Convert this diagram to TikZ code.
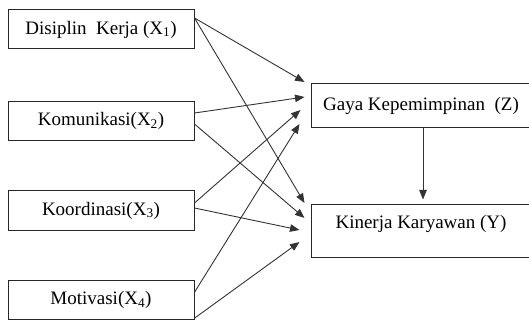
\documentclass[tikz,border=0pt]{standalone}
\usepackage{fontspec}
\setmainfont{Liberation Serif}
\usetikzlibrary{arrows.meta}
\begin{document}
\begin{tikzpicture}[x=1pt,y=-1pt,
  box/.style={draw=black!85, line width=1pt, inner sep=0pt, font=\fontsize{19}{22}\selectfont},
  lbox/.style={box, minimum width=186pt, minimum height=39pt},
  rbox/.style={box, minimum width=220pt},
  conn/.style={draw=black!80, line width=0.9pt, -{Triangle[length=9.5pt,width=7.5pt]}}]
\useasboundingbox (0,0) rectangle (529,320);
\node[lbox] (X1) at (101,29.5) {Disiplin\ \ Kerja (X\textsubscript{1})};
\node[lbox] (X2) at (101,121) {Komunikasi(X\textsubscript{2})};
\node[lbox] (X3) at (101,210.5) {Koordinasi(X\textsubscript{3})};
\node[lbox, minimum height=38.5pt] (X4) at (101,300.2) {Motivasi(X\textsubscript{4})};
\node[rbox, minimum height=44pt] (Z) at (421,106) {Gaya Kepemimpinan\ \ (Z)};
\node[rbox, minimum height=53pt, text depth=18pt] (Y) at (421,230.5) {Kinerja Karyawan (Y)};
% to Z
\draw[conn] ([yshift=11.5pt]X1.east) -- ([xshift=-6pt,yshift=24pt]Z.west);
\draw[conn] ([yshift=8pt]X2.east) -- ([xshift=-6pt,yshift=9pt]Z.west);
\draw[conn] ([yshift=7.5pt]X3.east) -- ([xshift=-10pt,yshift=-4pt]Z.west);
\draw[conn] ([yshift=8pt]X4.east) -- ([xshift=-11pt,yshift=-18pt]Z.west);
% to Y
\draw[conn] ([yshift=11.5pt]X1.east) -- ([xshift=-6pt,yshift=27.5pt]Y.west);
\draw[conn] ([yshift=-3pt]X2.east) -- ([xshift=-6pt,yshift=12.5pt]Y.west);
\draw[conn] ([yshift=2.5pt]X3.east) -- ([xshift=-11pt,yshift=0.5pt]Y.west);
\draw[conn] ([yshift=-18pt]X4.east) -- ([xshift=-11pt,yshift=-11.5pt]Y.west);
% Z to Y
\draw[conn] ([xshift=2pt]Z.south) -- ([xshift=2pt,yshift=4pt]Y.north);
\end{tikzpicture}
\end{document}
